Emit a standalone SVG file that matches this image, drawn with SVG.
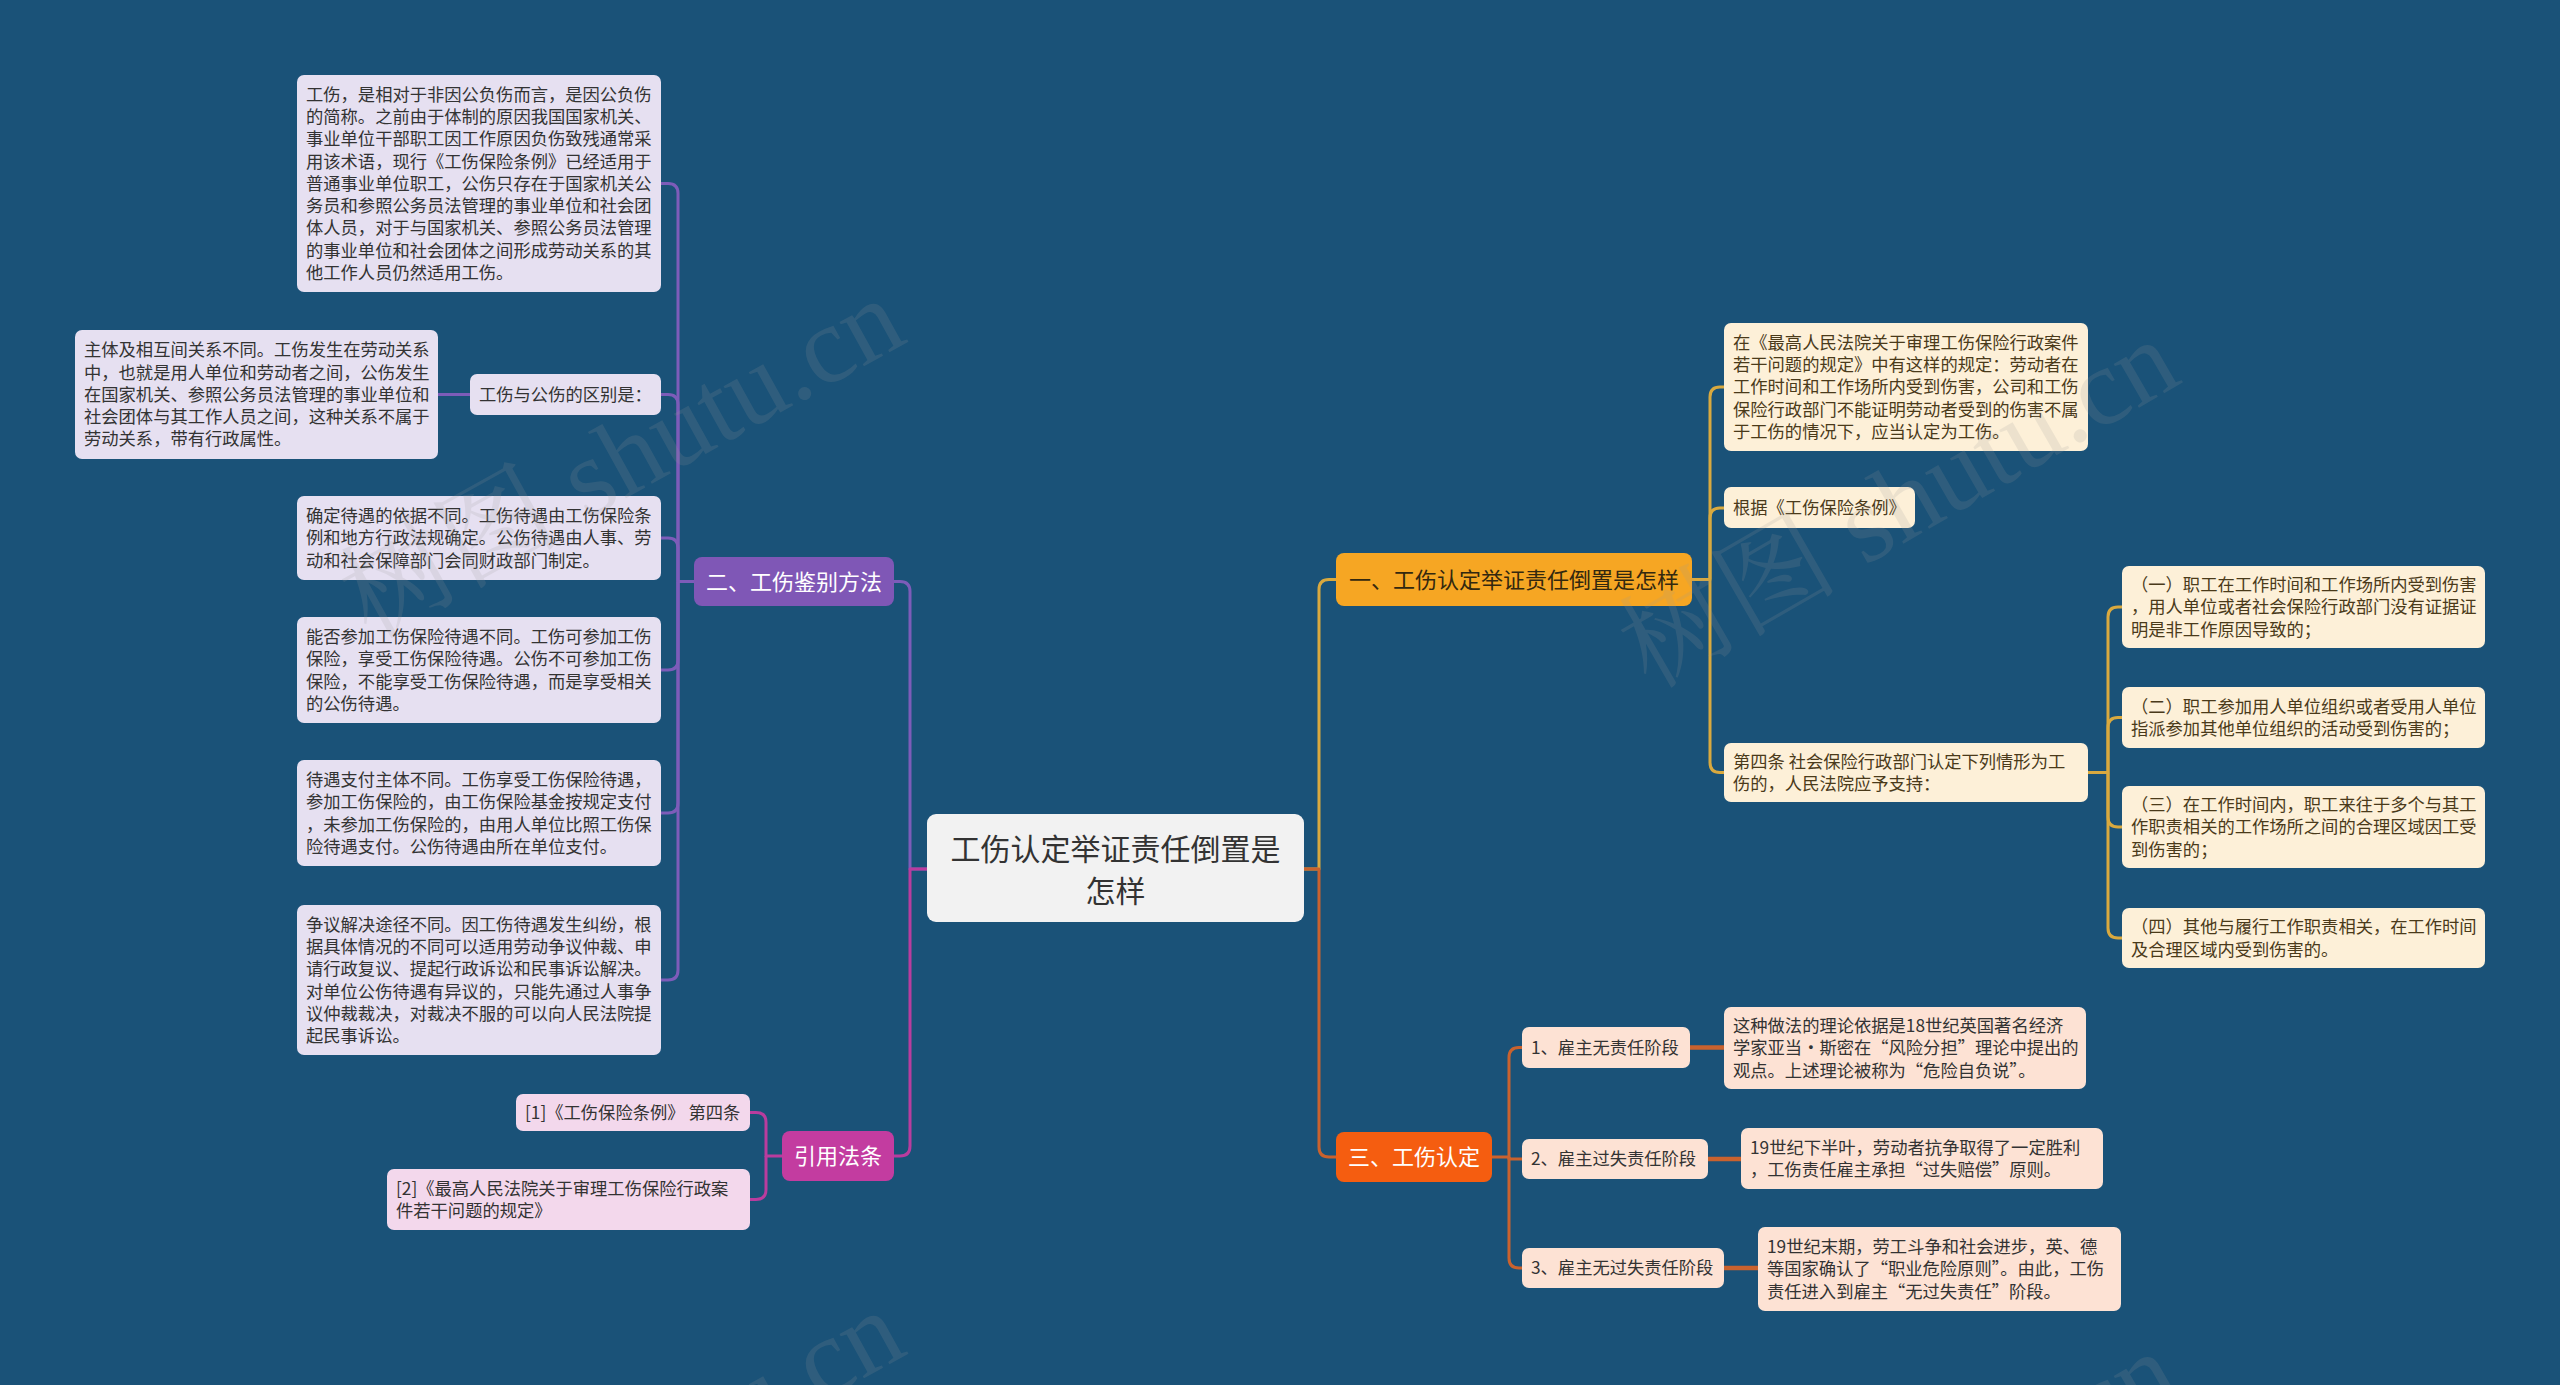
<svg xmlns="http://www.w3.org/2000/svg" width="2560" height="1385" viewBox="0 0 2560 1385">
<style>
text{font-family:"Noto Sans CJK SC","Microsoft YaHei",sans-serif;}
.d{font-size:17.3px;fill:#333;}
.dc{font-size:17.3px;fill:#4a3a1a;}
.b{font-size:22px;text-anchor:middle;}
.lav{fill:#e6e0f1;}
.pink{fill:#f3d8ec;}
.cream{fill:#fdf0d8;}
.peach{fill:#fde2d4;}
.ln{fill:none;stroke-width:3;stroke-linejoin:round;}
.pu{stroke:#7d5cb9;}
.mg{stroke:#b93c9e;}
.ye{stroke:#d9a93f;}
.or{stroke:#c9622e;}
.wm{font-family:"Liberation Serif","Noto Serif CJK SC","Noto Sans CJK SC",serif;font-size:110px;fill:#9a9a9a;opacity:0.16;}
</style>
<rect width="2560" height="1385" fill="#1a5278"/>

<g id="connectors">
<path class="ln pu" d="M927,869 H910 V591.5 Q910,581.5 900,581.5 H894"/>
<path class="ln mg" d="M927,869 H910 V1146 Q910,1156 900,1156 H894"/>
<path class="ln ye" d="M1304,869 H1319 V589.5 Q1319,579.5 1329,579.5 H1336"/>
<path class="ln or" d="M1304,869 H1319 V1147 Q1319,1157 1329,1157 H1336"/>

<path class="ln pu" d="M694,581.5 H678 V193.5 Q678,183.5 668,183.5 H661"/>
<path class="ln pu" d="M678,581.5 V404.5 Q678,394.5 668,394.5 H661"/>
<path class="ln pu" d="M678,581.5 V548 Q678,538 668,538 H661"/>
<path class="ln pu" d="M678,581.5 V660 Q678,670 668,670 H661"/>
<path class="ln pu" d="M678,581.5 V803 Q678,813 668,813 H661"/>
<path class="ln pu" d="M678,581.5 V970 Q678,980 668,980 H661"/>
<path class="ln pu" d="M470,394.5 H438"/>

<path class="ln mg" d="M782,1156 H766 V1122.5 Q766,1112.5 756,1112.5 H750"/>
<path class="ln mg" d="M766,1156 V1189.5 Q766,1199.5 756,1199.5 H750"/>

<path class="ln ye" d="M1692,579.5 H1710 V397 Q1710,387 1720,387 H1724"/>
<path class="ln ye" d="M1710,579.5 V518 Q1710,508 1720,508 H1724"/>
<path class="ln ye" d="M1710,579.5 V762.5 Q1710,772.5 1720,772.5 H1724"/>
<path class="ln ye" d="M2088,772.5 H2108 V617 Q2108,607 2118,607 H2122"/>
<path class="ln ye" d="M2108,772.5 V727.5 Q2108,717.5 2118,717.5 H2122"/>
<path class="ln ye" d="M2108,772.5 V817 Q2108,827 2118,827 H2122"/>
<path class="ln ye" d="M2108,772.5 V928 Q2108,938 2118,938 H2122"/>

<path class="ln or" d="M1492,1157 H1509 V1057.5 Q1509,1047.5 1519,1047.5 H1522"/>
<path class="ln or" d="M1509,1157 V1159 H1522"/>
<path class="ln or" d="M1509,1157 V1258 Q1509,1268 1519,1268 H1522"/>
<path class="ln or" style="stroke-width:4.5" d="M1690,1047.5 H1724"/>
<path class="ln or" style="stroke-width:4.5" d="M1708,1159 H1741"/>
<path class="ln or" style="stroke-width:4.5" d="M1724,1268 H1758"/>
</g>

<g id="center">
<rect x="927" y="814" width="377" height="108" rx="9" fill="#f2f2f2"/>
<text style="font-size:30px;fill:#333;text-anchor:middle"><tspan x="1115.5" y="860.4">工伤认定举证责任倒置是</tspan><tspan x="1115.5" y="902.4">怎样</tspan></text>
</g>

<g id="branch2">
<rect x="694" y="557" width="200" height="49" rx="8" fill="#7f57b6"/>
<text class="b" x="794" y="589.9" fill="#fff">二、工伤鉴别方法</text>
</g>
<g id="n1">
<rect class="lav" x="297" y="75" width="364" height="217" rx="7"/>
<text class="d"><tspan x="306" y="100.6">工伤，是相对于非因公负伤而言，是因公负伤</tspan><tspan x="306" y="122.9">的简称。之前由于体制的原因我国国家机关、</tspan><tspan x="306" y="145.2">事业单位干部职工因工作原因负伤致残通常采</tspan><tspan x="306" y="167.5">用该术语，现行《工伤保险条例》已经适用于</tspan><tspan x="306" y="189.8">普通事业单位职工，公伤只存在于国家机关公</tspan><tspan x="306" y="212.1">务员和参照公务员法管理的事业单位和社会团</tspan><tspan x="306" y="234.4">体人员，对于与国家机关、参照公务员法管理</tspan><tspan x="306" y="256.7">的事业单位和社会团体之间形成劳动关系的其</tspan><tspan x="306" y="279">他工作人员仍然适用工伤。</tspan></text>
</g>
<g id="n2label">
<rect class="lav" x="470" y="374" width="191" height="41" rx="7"/>
<text class="d" x="479" y="400.8">工伤与公伤的区别是：</text>
</g>
<g id="n2">
<rect class="lav" x="75" y="330" width="363" height="129" rx="7"/>
<text class="d"><tspan x="84" y="356.2">主体及相互间关系不同。工伤发生在劳动关系</tspan><tspan x="84" y="378.5">中，也就是用人单位和劳动者之间，公伤发生</tspan><tspan x="84" y="400.8">在国家机关、参照公务员法管理的事业单位和</tspan><tspan x="84" y="423.1">社会团体与其工作人员之间，这种关系不属于</tspan><tspan x="84" y="445.4">劳动关系，带有行政属性。</tspan></text>
</g>
<g id="n3">
<rect class="lav" x="297" y="496" width="364" height="84" rx="7"/>
<text class="d"><tspan x="306" y="522">确定待遇的依据不同。工伤待遇由工伤保险条</tspan><tspan x="306" y="544.3">例和地方行政法规确定。公伤待遇由人事、劳</tspan><tspan x="306" y="566.6">动和社会保障部门会同财政部门制定。</tspan></text>
</g>
<g id="n4">
<rect class="lav" x="297" y="617" width="364" height="106" rx="7"/>
<text class="d"><tspan x="306" y="642.9">能否参加工伤保险待遇不同。工伤可参加工伤</tspan><tspan x="306" y="665.2">保险，享受工伤保险待遇。公伤不可参加工伤</tspan><tspan x="306" y="687.5">保险，不能享受工伤保险待遇，而是享受相关</tspan><tspan x="306" y="709.8">的公伤待遇。</tspan></text>
</g>
<g id="n5">
<rect class="lav" x="297" y="760" width="364" height="106" rx="7"/>
<text class="d"><tspan x="306" y="785.9">待遇支付主体不同。工伤享受工伤保险待遇，</tspan><tspan x="306" y="808.2">参加工伤保险的，由工伤保险基金按规定支付</tspan><tspan x="306" y="830.5">，未参加工伤保险的，由用人单位比照工伤保</tspan><tspan x="306" y="852.8">险待遇支付。公伤待遇由所在单位支付。</tspan></text>
</g>
<g id="n6">
<rect class="lav" x="297" y="905" width="364" height="150" rx="7"/>
<text class="d"><tspan x="306" y="930.6">争议解决途径不同。因工伤待遇发生纠纷，根</tspan><tspan x="306" y="952.9">据具体情况的不同可以适用劳动争议仲裁、申</tspan><tspan x="306" y="975.2">请行政复议、提起行政诉讼和民事诉讼解决。</tspan><tspan x="306" y="997.5">对单位公伤待遇有异议的，只能先通过人事争</tspan><tspan x="306" y="1019.8">议仲裁裁决，对裁决不服的可以向人民法院提</tspan><tspan x="306" y="1042.1">起民事诉讼。</tspan></text>
</g>

<g id="refs">
<rect x="782" y="1131" width="112" height="50" rx="8" fill="#c33ca0"/>
<text class="b" x="838" y="1164.4" fill="#fff">引用法条</text>
</g>
<g id="ref1">
<rect class="pink" x="516" y="1094" width="234" height="37" rx="7"/>
<text class="d" x="525" y="1118.8">[1]《工伤保险条例》 第四条</text>
</g>
<g id="ref2">
<rect class="pink" x="387" y="1169" width="363" height="61" rx="7"/>
<text class="d"><tspan x="396" y="1194.7">[2]《最高人民法院关于审理工伤保险行政案</tspan><tspan x="396" y="1217">件若干问题的规定》</tspan></text>
</g>

<g id="branch1">
<rect x="1336" y="553" width="356" height="53" rx="8" fill="#f6a623"/>
<text class="b" x="1514" y="587.9" fill="#33280f">一、工伤认定举证责任倒置是怎样</text>
</g>
<g id="r1">
<rect class="cream" x="1724" y="323" width="364" height="128" rx="7"/>
<text class="dc"><tspan x="1733" y="348.7">在《最高人民法院关于审理工伤保险行政案件</tspan><tspan x="1733" y="371">若干问题的规定》中有这样的规定：劳动者在</tspan><tspan x="1733" y="393.3">工作时间和工作场所内受到伤害，公司和工伤</tspan><tspan x="1733" y="415.6">保险行政部门不能证明劳动者受到的伤害不属</tspan><tspan x="1733" y="437.9">于工伤的情况下，应当认定为工伤。</tspan></text>
</g>
<g id="r2">
<rect class="cream" x="1724" y="487" width="191" height="41" rx="7"/>
<text class="dc" x="1733" y="514.3">根据《工伤保险条例》</text>
</g>
<g id="r3">
<rect class="cream" x="1724" y="743" width="364" height="59" rx="7"/>
<text class="dc"><tspan x="1733" y="767.7">第四条 社会保险行政部门认定下列情形为工</tspan><tspan x="1733" y="790">伤的，人民法院应予支持：</tspan></text>
</g>
<g id="r3a">
<rect class="cream" x="2122" y="566" width="363" height="82" rx="7"/>
<text class="dc"><tspan x="2131" y="591">（一）职工在工作时间和工作场所内受到伤害</tspan><tspan x="2131" y="613.3">，用人单位或者社会保险行政部门没有证据证</tspan><tspan x="2131" y="635.6">明是非工作原因导致的；</tspan></text>
</g>
<g id="r3b">
<rect class="cream" x="2122" y="687" width="363" height="61" rx="7"/>
<text class="dc"><tspan x="2131" y="712.7">（二）职工参加用人单位组织或者受用人单位</tspan><tspan x="2131" y="735">指派参加其他单位组织的活动受到伤害的；</tspan></text>
</g>
<g id="r3c">
<rect class="cream" x="2122" y="786" width="363" height="82" rx="7"/>
<text class="dc"><tspan x="2131" y="811">（三）在工作时间内，职工来往于多个与其工</tspan><tspan x="2131" y="833.3">作职责相关的工作场所之间的合理区域因工受</tspan><tspan x="2131" y="855.6">到伤害的；</tspan></text>
</g>
<g id="r3d">
<rect class="cream" x="2122" y="908" width="363" height="60" rx="7"/>
<text class="dc"><tspan x="2131" y="933.2">（四）其他与履行工作职责相关，在工作时间</tspan><tspan x="2131" y="955.5">及合理区域内受到伤害的。</tspan></text>
</g>

<g id="branch3">
<rect x="1336" y="1132" width="156" height="50" rx="8" fill="#f55d10"/>
<text class="b" x="1414" y="1165.4" fill="#fff">三、工伤认定</text>
</g>
<g id="s1">
<rect class="peach" x="1522" y="1027" width="168" height="41" rx="7"/>
<text class="d" x="1531" y="1053.8">1、雇主无责任阶段</text>
</g>
<g id="s1d">
<rect class="peach" x="1724" y="1007" width="362" height="82" rx="7"/>
<text class="d"><tspan x="1733" y="1032">这种做法的理论依据是18世纪英国著名经济</tspan><tspan x="1733" y="1054.3">学家亚当·斯密在“风险分担”理论中提出的</tspan><tspan x="1733" y="1076.6">观点。上述理论被称为“危险自负说”。</tspan></text>
</g>
<g id="s2">
<rect class="peach" x="1522" y="1139" width="186" height="40" rx="7"/>
<text class="d" x="1531" y="1165.3">2、雇主过失责任阶段</text>
</g>
<g id="s2d">
<rect class="peach" x="1741" y="1128" width="362" height="61" rx="7"/>
<text class="d"><tspan x="1750" y="1153.7">19世纪下半叶，劳动者抗争取得了一定胜利</tspan><tspan x="1750" y="1176">，工伤责任雇主承担“过失赔偿”原则。</tspan></text>
</g>
<g id="s3">
<rect class="peach" x="1522" y="1248" width="202" height="40" rx="7"/>
<text class="d" x="1531" y="1274.3">3、雇主无过失责任阶段</text>
</g>
<g id="s3d">
<rect class="peach" x="1758" y="1227" width="363" height="84" rx="7"/>
<text class="d"><tspan x="1767" y="1253">19世纪末期，劳工斗争和社会进步，英、德</tspan><tspan x="1767" y="1275.3">等国家确认了“职业危险原则”。由此，工伤</tspan><tspan x="1767" y="1297.6">责任进入到雇主“无过失责任”阶段。</tspan></text>
</g>

<g id="watermark">
<text class="wm" transform="translate(370,640) rotate(-29)">树图 shutu.cn</text>
<text class="wm" transform="translate(1650,690) rotate(-30)">树图 shutu.cn</text>
<text class="wm" transform="translate(370,1652) rotate(-29)">树图 shutu.cn</text>
<text class="wm" transform="translate(1650,1702) rotate(-30)">树图 shutu.cn</text>
</g>
</svg>
